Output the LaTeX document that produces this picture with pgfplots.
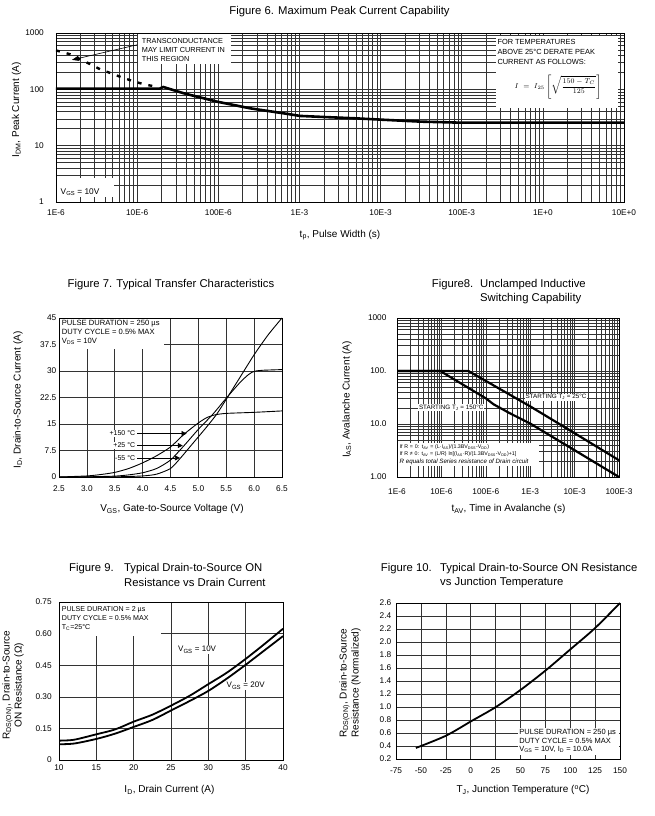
\documentclass[border=0pt]{standalone}
\usepackage{fontspec}
\setmainfont{Liberation Sans}
\usepackage{pgfplots}
\pgfplotsset{compat=1.18}
\usetikzlibrary{arrows.meta}

\pgfplotsset{
  ds/.style={
    scale only axis, anchor=south west,
    axis line style={black, line width=0.8pt},
    grid style={black!80, line width=0.55pt},
    minor grid style={black!80, line width=0.55pt},
    major tick length=0pt, minor tick length=0pt,
    ticklabel style={font=\fontsize{8.3}{9}\selectfont},
  },
}
\tikzset{
  boxtxt/.style={font=\fontsize{7.6}{9}\selectfont, align=left, inner sep=0pt, anchor=north west},
  tarrow/.style={black, line width=0.6pt, -{Triangle[length=5pt,width=5pt]}},
  tlab/.style={fill=white, inner sep=0.6pt, anchor=east, font=\fontsize{7}{8}\selectfont},
}
\newcommand\ttl{\fontsize{11.3}{13}\selectfont}
\newcommand\lbl{\fontsize{10}{12}\selectfont}

\begin{document}
\begin{tikzpicture}[x=1pt,y=1pt]
\useasboundingbox (0,0) rectangle (655,816);

% ---------------- Figure 6
\node[font=\ttl] at (339.5,804) {Figure 6. Maximum Peak Current Capability};
\node[font=\lbl] at (340,581) {t\textsubscript{p}, Pulse Width (s)};
\node[font=\lbl, rotate=90] at (16.5,706) {I\textsubscript{DM}, Peak Current (A)};
\begin{axis}[ds, at={(56pt,614pt)}, width=568pt, height=169pt,
  xmode=log, ymode=log, xmin=1e-6, xmax=10, ymin=1, ymax=1000,
  xtick={1e-6,1e-5,1e-4,1e-3,1e-2,1e-1,1,10},
  xticklabels={1E-6,10E-6,100E-6,1E-3,10E-3,100E-3,1E+0,10E+0},
  ytick={1,10,100,1000}, yticklabels={1,10,100,1000},
  grid=both,
  xticklabel style={yshift=-4.5pt}, yticklabel style={xshift=-8.7pt}]
\addplot[black, line width=2.6pt] coordinates {
  (1e-6,103) (1.9e-5,103) (2.1e-5,110) (3.7e-5,85.5) (9.6e-5,60.5)
  (2.47e-4,46) (6.3e-4,37.6) (1.02e-3,33.7) (2.4e-3,31.9) (4.6e-3,30.7)
  (1.2e-2,28.6) (3.1e-2,26.7) (9.6e-2,25.6) (10,25.6)};
\addplot[black, line width=2.4pt, dash pattern=on 4pt off 7pt] coordinates {
  (1.0e-6,490) (1.49e-6,420) (2.6e-6,283) (3.5e-6,227) (4.9e-6,190)
  (6.6e-6,161) (9e-6,139) (1.23e-5,122) (1.7e-5,112)};
\node[fill=white, anchor=north west, minimum width=93pt, minimum height=30pt, inner sep=0pt]
  at (rel axis cs:0.144,0.997) {};
\node[boxtxt, font=\fontsize{7.3}{9.2}\selectfont] at (rel axis cs:0.151,0.97)
  {TRANSCONDUCTANCE\\MAY LIMIT CURRENT IN\\THIS REGION};
\node[fill=white, anchor=north west, minimum width=122pt, minimum height=72pt, inner sep=0pt]
  at (rel axis cs:0.775,0.982) {};
\node[boxtxt, font=\fontsize{7.4}{10}\selectfont] at (rel axis cs:0.777,0.962)
  {FOR TEMPERATURES\\ABOVE 25°C DERATE PEAK\\CURRENT AS FOLLOWS:};
\node[font=\fontsize{7.5}{9}\selectfont, inner sep=0pt] at (rel axis cs:0.884,0.682)
  {$\displaystyle I\;=\;I_{25}\left[\sqrt{\frac{150-T_C}{125}}\right]$};
\node[fill=white, anchor=south west, minimum width=57pt, minimum height=19pt, inner sep=0pt]
  at (rel axis cs:0.002,0.03) {};
\node[anchor=west, inner sep=0pt, font=\fontsize{8.3}{9}\selectfont] at (rel axis cs:0.008,0.059)
  {V\textsubscript{GS} = 10V};
\draw[black, line width=0.6pt, -{Triangle[length=7pt,width=5pt]}]
  (axis cs:1e-5,617) -- (axis cs:1.57e-6,333);
\end{axis}

% ---------------- Figure 7
\node[font=\ttl] at (171,531) {Figure 7. Typical Transfer Characteristics};
\node[font=\lbl] at (172,307) {V\textsubscript{GS}, Gate-to-Source Voltage (V)};
\node[font=\lbl, rotate=90] at (18,416) {I\textsubscript{D}, Drain-to-Source Current (A)};
\begin{axis}[ds, at={(59pt,339pt)}, width=223pt, height=159pt,
  xmin=2.5, xmax=6.5, ymin=0, ymax=45,
  xtick={2.5,3,3.5,4,4.5,5,5.5,6,6.5},
  xticklabels={2.5,3.0,3.5,4.0,4.5,5.0,5.5,6.0,6.5},
  ytick={0,7.5,15,22.5,30,37.5,45}, yticklabels={0,7.5,15,22.5,30,37.5,45},
  grid=major,
  xticklabel style={yshift=-5.5pt}, yticklabel style={xshift=0.8pt}]
\addplot[black, line width=0.9pt, smooth, tension=0.4] coordinates {
  (2.5,0) (3.0,0.3) (3.25,0.7) (3.5,1.3) (3.75,2.4) (4.0,4.0) (4.25,6.0)
  (4.5,8.5) (4.75,12.2) (5.0,15.3) (5.15,16.8) (5.3,17.6) (5.5,18.0)
  (6.0,18.3) (6.5,18.7)};
\addplot[black, line width=0.9pt, smooth, tension=0.4] coordinates {
  (2.5,0) (3.0,0.05) (3.5,0.25) (3.75,0.6) (4.0,1.2) (4.25,2.4) (4.5,4.8)
  (4.75,9.0) (5.0,13.5) (5.25,17.6) (5.5,22.3) (5.75,26.8) (5.9,29.0)
  (6.0,29.9) (6.15,30.2) (6.5,30.4)};
\addplot[black, line width=0.9pt, smooth, tension=0.4] coordinates {
  (2.5,0) (3.5,0.05) (4.0,0.3) (4.25,0.8) (4.5,2.4) (4.67,5.2) (4.9,9.5)
  (5.15,14.2) (5.33,17.8) (5.5,22.0) (5.75,28.3) (6.0,34.6) (6.25,40.2)
  (6.5,45)};
\node[fill=white, anchor=north west, minimum width=104pt, minimum height=30pt, inner sep=0pt]
  at (rel axis cs:0.004,0.996) {};
\node[boxtxt] at (rel axis cs:0.012,0.985)
  {PULSE DURATION = 250 µs\\DUTY CYCLE = 0.5\% MAX\\V\textsubscript{DS} = 10V};
\draw[tarrow] (axis cs:3.9,12.3) -- (axis cs:4.79,12.3);
\draw[tarrow] (axis cs:3.9,8.9) -- (axis cs:4.72,8.9);
\draw[tarrow] (axis cs:3.9,5.4) -- (axis cs:4.67,5.4);
\node[tlab] at (axis cs:3.88,12.3) {+150 °C};
\node[tlab] at (axis cs:3.88,8.9) {+25 °C};
\node[tlab] at (axis cs:3.88,5.4) {-55 °C};
\end{axis}

% ---------------- Figure 8
\node[font=\ttl, anchor=west, inner sep=0pt] at (431.7,531) {Figure8.};
\node[font=\ttl, anchor=west, inner sep=0pt] at (480,531) {Unclamped Inductive};
\node[font=\ttl, anchor=west, inner sep=0pt] at (480,517.7) {Switching Capability};
\node[font=\lbl] at (508.5,307) {t\textsubscript{AV}, Time in Avalanche (s)};
\node[font=\lbl, rotate=90] at (347,416.5) {I\textsubscript{AS}, Avalanche Current (A)};
\begin{axis}[ds, at={(397pt,339pt)}, width=222pt, height=159pt,
  xmode=log, ymode=log, xmin=1e-6, xmax=0.1, ymin=1, ymax=1000,
  xtick={1e-6,1e-5,1e-4,1e-3,1e-2,1e-1},
  xticklabels={1E-6,10E-6,100E-6,1E-3,10E-3,100E-3},
  ytick={1,10,100,1000}, yticklabels={1.00,10.0,100.,1000},
  grid=both,
  xticklabel style={yshift=-8pt}, yticklabel style={xshift=-7pt}]
\addplot[black, line width=2.2pt] coordinates {
  (1e-6,100) (4.07e-5,100) (1e-3,21.5) (1e-2,6.7) (1e-1,2.07)};
\addplot[black, line width=2.2pt] coordinates {
  (1e-6,100) (9.4e-6,100) (3.14e-5,54.6) (1e-4,30.5) (1.5e-4,23.5) (3.5e-4,15.9)
  (1e-3,10.2) (1e-2,3.2) (1e-1,1.0)};
\node[fill=white, inner sep=1pt, font=\fontsize{6.3}{7}\selectfont] at (axis cs:3.8e-3,32)
  {STARTING T\textsubscript{J} = 25°C};
\node[fill=white, inner sep=1pt, font=\fontsize{6.3}{7}\selectfont] at (axis cs:1.66e-5,20.4)
  {STARTING T\textsubscript{J} = 150°C};
\node[fill=white, anchor=north west, inner xsep=2pt, inner ysep=1.5pt, align=left,
  font=\fontsize{5.3}{7.3}\selectfont, text width=137pt] at (rel axis cs:0.002,0.213)
  {If R = 0: t\textsubscript{AV} = (L·I\textsubscript{AS})/(1.3BV\textsubscript{DSS}-V\textsubscript{DD})\\
   If R ≠ 0: t\textsubscript{AV} = (L/R) ln[(I\textsubscript{AS}·R)/(1.3BV\textsubscript{DSS}-V\textsubscript{DD})+1]\\
   {\fontsize{6.2}{7.3}\selectfont\itshape R equals total Series resistance of Drain circuit}};
\end{axis}

% ---------------- Figure 9
\node[font=\ttl, anchor=west, inner sep=0pt] at (69,247) {Figure 9.};
\node[font=\ttl, anchor=west, inner sep=0pt] at (124,247) {Typical Drain-to-Source ON};
\node[font=\ttl, anchor=west, inner sep=0pt] at (124,233.7) {Resistance vs Drain Current};
\node[font=\lbl] at (169.5,26) {I\textsubscript{D}, Drain Current (A)};
\node[font=\lbl, rotate=90, align=center] at (13,131)
  {R\textsubscript{DS(ON)}, Drain-to-Source\\ON Resistance (Ω)};
\begin{axis}[ds, at={(59pt,56pt)}, width=224pt, height=158pt,
  xmin=10, xmax=40, ymin=0, ymax=0.75,
  xtick={10,15,20,25,30,35,40}, xticklabels={10,15,20,25,30,35,40},
  ytick={0,0.15,0.3,0.45,0.6,0.75},
  yticklabels={0\hspace{9pt},0.15,0.30,0.45,0.60,0.75},
  grid=major,
  xticklabel style={yshift=-1.5pt}, yticklabel style={xshift=-3.8pt}]
\addplot[black, line width=1.8pt, smooth] coordinates {
  (10,0.092) (12,0.096) (15,0.122) (17.5,0.145) (20,0.182) (22.5,0.215)
  (25,0.258) (27.5,0.305) (30,0.36) (32.5,0.415) (35,0.48) (37.5,0.55) (40,0.623)};
\addplot[black, line width=1.8pt, smooth] coordinates {
  (10,0.075) (12,0.078) (15,0.10) (17.5,0.125) (20,0.157) (22.5,0.19)
  (25,0.235) (27.5,0.28) (30,0.328) (32.5,0.387) (35,0.452) (37.5,0.52) (40,0.588)};
\node[fill=white, anchor=north west, minimum width=101pt, minimum height=33pt, inner sep=0pt]
  at (rel axis cs:0.004,0.996) {};
\node[boxtxt, font=\fontsize{7.1}{9.3}\selectfont] at (rel axis cs:0.012,0.975)
  {PULSE DURATION = 2 µs\\DUTY CYCLE = 0.5\% MAX\\T\textsubscript{C}=25°C};
\node[fill=white, inner sep=0.8pt, font=\fontsize{8}{9}\selectfont] at (axis cs:28.5,0.523)
  {V\textsubscript{GS} = 10V};
\node[fill=white, inner sep=0.8pt, font=\fontsize{8}{9}\selectfont] at (axis cs:35.0,0.352)
  {V\textsubscript{GS} = 20V};
\end{axis}

% ---------------- Figure 10
\node[font=\ttl, anchor=west, inner sep=0pt] at (380.7,247) {Figure 10.};
\node[font=\ttl, anchor=west, inner sep=0pt] at (440,247) {Typical Drain-to-Source ON Resistance};
\node[font=\ttl, anchor=west, inner sep=0pt] at (440,233) {vs Junction Temperature};
\node[font=\lbl] at (523,26) {T\textsubscript{J}, Junction Temperature (\textsuperscript{o}C)};
\node[font=\lbl, rotate=90, align=center] at (350,133)
  {R\textsubscript{DS(ON)}, Drain-to-Source\\Resistance (Normalized)};
\begin{axis}[ds, at={(396pt,57pt)}, width=224pt, height=156pt,
  xmin=-75, xmax=150, ymin=0.2, ymax=2.6,
  xtick={-75,-50,...,150}, xticklabels={-75,-50,-25,0,25,50,75,100,125,150},
  ytick={0.2,0.4,...,2.61},
  yticklabels={0.2,0.4,0.6,0.8,1.0,1.2,1.4,1.6,1.8,2.0,2.2,2.4,2.6},
  grid=major,
  xticklabel style={yshift=-5pt}, yticklabel style={xshift=-1.2pt}]
\addplot[black, line width=1.8pt, smooth] coordinates {
  (-55,0.37) (-25,0.557) (0,0.777) (25,0.997) (50,1.262) (75,1.559)
  (100,1.885) (125,2.215) (150,2.6)};
\node[fill=white, anchor=north west, minimum width=101pt, minimum height=27pt, inner sep=0pt]
  at (rel axis cs:0.545,0.2) {};
\node[boxtxt, font=\fontsize{7.5}{8.3}\selectfont] at (rel axis cs:0.55,0.19)
  {PULSE DURATION = 250 µs\\DUTY CYCLE = 0.5\% MAX\\V\textsubscript{GS} = 10V, I\textsubscript{D} = 10.0A};
\end{axis}
\end{tikzpicture}
\end{document}
